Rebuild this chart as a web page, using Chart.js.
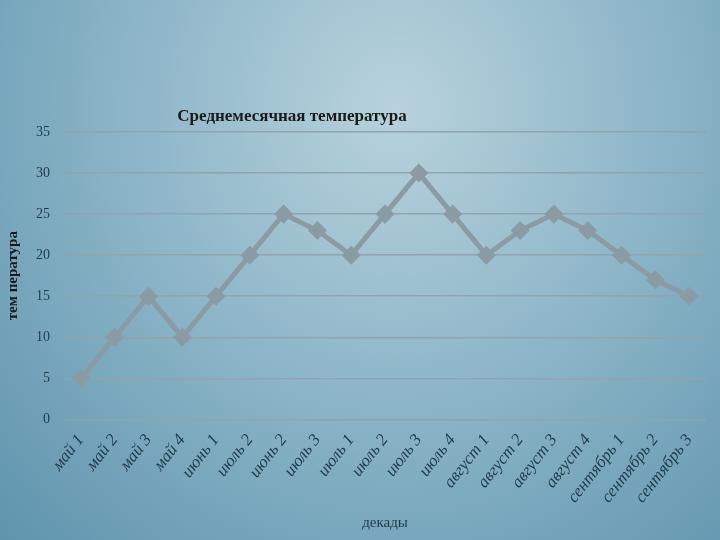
<!DOCTYPE html>
<html><head><meta charset="utf-8">
<script src="https://cdn.jsdelivr.net/npm/chart.js@4"></script>
<style>
html,body{margin:0;padding:0}
body{width:720px;height:540px;background:radial-gradient(ellipse at 55% 20%,#b8d2dc 0%,#8fb7c9 45%,#5f94ae 100%)}
#wrap{width:720px;height:540px}
</style></head><body>
<div id="wrap"><canvas id="c"></canvas></div>
<script>
const labels = ['май 1','май 2','май 3','май 4','июнь 1','июль 2','июнь 2','июль 3','июль 1','июль 2','июль 3','июль 4','август 1','август 2','август 3','август 4','сентябрь 1','сентябрь 2','сентябрь 3'];
const temps = [5,10,15,10,15,20,25,23,20,25,30,25,20,23,25,23,20,17,15];
const chartTitle = 'Среднемесячная температура';

// title sits off-centre in the original, so draw it by hand
const titlePlugin = {
  id: 'titleText',
  afterDraw(chart) {
    const c = chart.ctx;
    c.save();
    c.font = 'bold 17px "Liberation Serif"';
    c.fillStyle = '#1a1a1a';
    c.textAlign = 'center';
    c.textBaseline = 'middle';
    c.fillText(chartTitle, 292, 117);
    c.restore();
  }
};

new Chart(document.getElementById('c'), {
  type: 'line',
  data: {
    labels: labels,
    datasets: [{
      data: temps,
      borderColor: '#8b9ba4',
      backgroundColor: '#8b9ba4',
      borderWidth: 5,
      pointStyle: 'rectRot',
      pointRadius: 6,
      tension: 0
    }]
  },
  plugins: [titlePlugin],
  options: {
    responsive: true,
    maintainAspectRatio: false,
    animation: false,
    layout: {padding: {top: 132, right: 14, left: 4, bottom: 4}},
    plugins: {legend: {display: false}, title: {display: false}},
    scales: {
      x: {
        offset: true,
        grid: {display: false},
        border: {display: false},
        ticks: {color: '#1f3a4a', maxRotation: 52, minRotation: 52, font: {family: 'Liberation Serif', size: 17, style: 'italic'}},
        title: {display: true, text: 'декады', color: '#1f3a4a', font: {family: 'Liberation Serif', size: 15}}
      },
      y: {
        min: 0, max: 35,
        ticks: {stepSize: 5, color: '#1f3a4a', padding: 14, font: {family: 'Liberation Serif', size: 14}},
        grid: {color: '#8fa4ae', lineWidth: 1.5, drawTicks: false},
        border: {display: false},
        title: {display: true, text: 'тем пература', color: '#1a1a1a', padding: 0, font: {family: 'Liberation Serif', size: 15, weight: 'bold'}}
      }
    }
  }
});
</script>
</body></html>
